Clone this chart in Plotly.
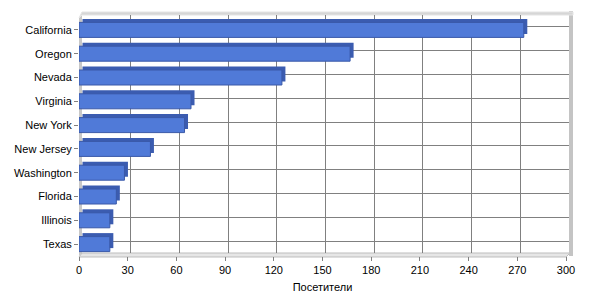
import plotly.graph_objects as go

categories = ["California", "Oregon", "Nevada", "Virginia", "New York",
              "New Jersey", "Washington", "Florida", "Illinois", "Texas"]
visitors = [274, 167, 125, 69, 65, 44, 28, 23, 19, 19]
x_ticks = [0, 30, 60, 90, 120, 150, 180, 210, 240, 270, 300]
x_title = "Посетители"

W, H = 600, 300
# front plane (px)
fx0, fx1, fy0, fy1 = 79, 566, 18, 256
depth = 3  # px
n = len(categories)
pos = [n - 1 - i for i in range(n)]
bw = 0.63
xmax = 300
dx_units = 3.5 / ((fx1 - fx0) / xmax)
dy_units = 3.5 / ((fy1 - fy0) / n)

def px(x):
    return x / W

def py(y):
    return (H - y) / H

font = dict(family="Liberation Sans, Arial, sans-serif", size=11, color="#000000")

fig = go.Figure()
# back wall subplot (grid only)
fig.add_trace(go.Scatter(x=[], y=[], xaxis="x", yaxis="y", showlegend=False, hoverinfo="skip"))
# depth faces
fig.add_trace(go.Bar(x=visitors, y=pos, base=dx_units, orientation="h", width=bw,
                     offset=-bw / 2 + dy_units, marker=dict(color="#3b5cb0", line=dict(width=0)),
                     xaxis="x2", yaxis="y2", showlegend=False, hoverinfo="skip"))
# front faces
fig.add_trace(go.Bar(x=visitors, y=pos, orientation="h", width=bw, offset=-bw / 2,
                     marker=dict(color="#507ad8", line=dict(color="#3a59a8", width=1)),
                     xaxis="x2", yaxis="y2", showlegend=False))

shapes = []
gray = "#c4c4c4"
# left wall
shapes.append(dict(type="path", xref="paper", yref="paper", layer="below",
                   path=f"M {px(fx0)},{py(fy1)} L {px(fx0)},{py(fy0)} L {px(fx0+depth)},{py(fy0-depth)} "
                        f"L {px(fx0+depth)},{py(fy1-depth)} Z",
                   fillcolor="#c8c8c8", line=dict(width=0)))
# floor
shapes.append(dict(type="path", xref="paper", yref="paper", layer="below",
                   path=f"M {px(fx0)},{py(fy1+1)} L {px(fx1)},{py(fy1+1)} L {px(fx1+depth+1)},{py(fy1-depth)} "
                        f"L {px(fx0+depth)},{py(fy1-depth)} Z",
                   fillcolor="#e6e6e6", line=dict(color="#bdbdbd", width=1)))
# right wall
shapes.append(dict(type="rect", xref="paper", yref="paper", layer="below",
                   x0=px(fx1 + depth), x1=px(fx1 + depth + 4), y0=py(fy1), y1=py(fy0 - depth - 4),
                   fillcolor=gray, line=dict(width=0)))
# top edge
shapes.append(dict(type="path", xref="paper", yref="paper", layer="below",
                   path=f"M {px(fx0)},{py(fy0)} L {px(fx0+depth)},{py(fy0-depth)} L {px(fx1+depth+4)},{py(fy0-depth)} "
                        f"L {px(fx1+depth+4)},{py(fy0-depth-3)} L {px(fx0+depth)},{py(fy0-depth-3)} Z",
                   fillcolor="#d6d6d6", line=dict(color="#e4e4e4", width=1)))

fig.update_layout(
    width=W, height=H,
    margin=dict(l=0, r=0, t=0, b=0, autoexpand=False),
    paper_bgcolor="white", plot_bgcolor="rgba(0,0,0,0)",
    barmode="overlay",
    shapes=shapes,
    font=font,
    xaxis=dict(domain=[px(fx0 + depth), px(fx1 + depth)], range=[0, xmax], anchor="y",
               tickvals=x_ticks, showticklabels=False, showgrid=True, gridcolor="#808080",
               gridwidth=1, zeroline=False, showline=False, ticks="", automargin=False),
    yaxis=dict(domain=[py(fy1 - depth), py(fy0 - depth)], range=[-0.5, n - 0.5], anchor="x",
               tickvals=pos, showticklabels=False, showgrid=True, gridcolor="#808080",
               gridwidth=1, zeroline=False, showline=False, ticks="", automargin=False),
    xaxis2=dict(domain=[px(fx0), px(fx1)], range=[0, xmax], anchor="y2",
                tickvals=x_ticks, ticks="outside", ticklen=4, tickcolor="#808080",
                showgrid=False, zeroline=False, showline=False, tickfont=font,
                automargin=False,
                title=dict(text=x_title, font=font, standoff=8)),
    yaxis2=dict(domain=[py(fy1), py(fy0)], range=[-0.5, n - 0.5], anchor="x2",
                tickvals=pos, ticktext=categories, ticks="outside", ticklen=4,
                tickcolor="#808080", showgrid=False, zeroline=False, showline=False,
                tickfont=font, automargin=False),
)

fig.write_html("out.html")
